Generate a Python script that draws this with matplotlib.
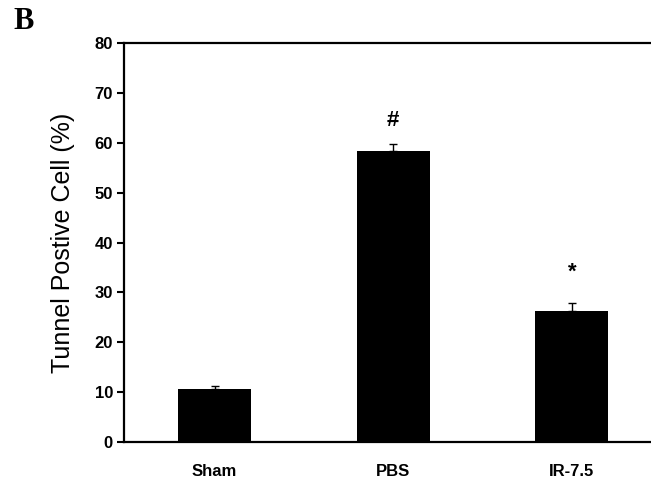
import matplotlib
matplotlib.use("Agg")
import matplotlib.pyplot as plt

# Tunnel positive cells per group
groups = ["Sham", "PBS", "IR-7.5"]
means = [10.6, 58.4, 26.3]
errors = [0.7, 1.3, 1.5]
marks = ["", "#", "*"]
mark_y = [0, 64.5, 34.0]

fig = plt.figure(figsize=(6.51, 4.86), dpi=100)
ax = fig.add_axes([0.1905, 0.0905, 0.8095, 0.821])

x = range(1, len(groups) + 1)
ax.bar(x, means, width=0.41, color="black", zorder=2)
ax.errorbar(x, means, yerr=[[0] * len(errors), errors], fmt="none",
            ecolor="black", elinewidth=1, capsize=3, capthick=1, zorder=1)

for xi, m, my in zip(x, marks, mark_y):
    if m:
        ax.text(xi, my, m, ha="center", va="center", fontsize=16,
                fontweight="bold", family="Liberation Sans")

ax.set_xlim(0.493, 3.443)
ax.set_ylim(0, 80)
ax.set_yticks(range(0, 81, 10))
ax.set_xticks(list(x))
ax.set_xticklabels(groups, fontsize=12, fontweight="bold", family="Liberation Sans")
for lab in ax.get_yticklabels():
    lab.set_fontweight("bold")
    lab.set_family("Liberation Sans")
    lab.set_fontsize(12)
ax.tick_params(axis="x", length=0, pad=16)
ax.tick_params(axis="y", length=5, width=1.5, pad=3)

for side in ["left", "bottom", "top"]:
    ax.spines[side].set_linewidth(1.6)
ax.spines["right"].set_visible(False)

ax.set_ylabel("Tunnel Postive Cell (%)", fontsize=18, family="Liberation Sans", labelpad=14)

fig.text(0.02, 0.955, "B", fontsize=22, fontweight="bold", family="Liberation Serif",
         va="center", ha="left")

fig.savefig("out.png", dpi=100)
